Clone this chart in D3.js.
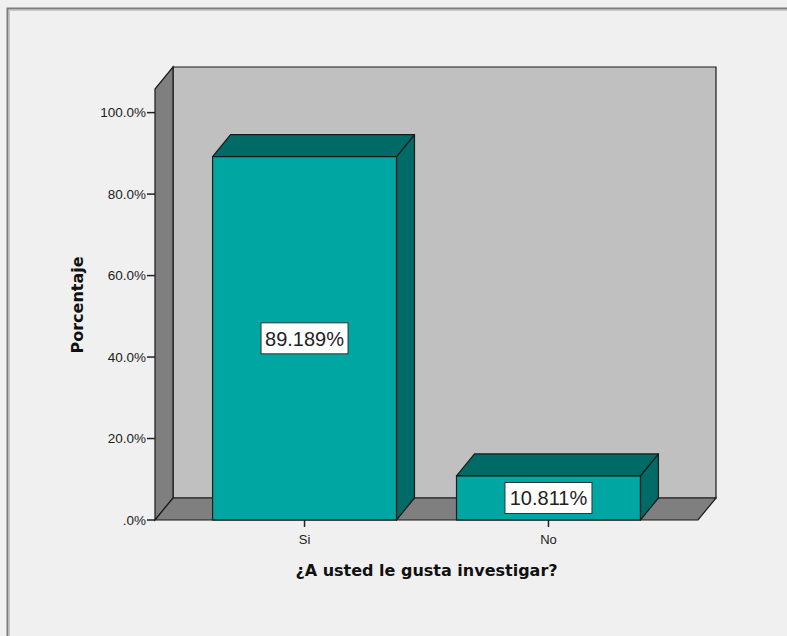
<!DOCTYPE html>
<html><head><meta charset="utf-8">
<script src="https://cdn.jsdelivr.net/npm/d3@7"></script>
<style>body{margin:0;background:#f0f0f0;} svg{display:block;}</style>
</head><body>
<svg id="c" width="787" height="636"></svg>
<script>
const categories = ["Si", "No"];
const values = [89.189, 10.811];
const valueLabels = ["89.189%", "10.811%"];
const yTicks = [0, 20, 40, 60, 80, 100];
const yTickLabels = [".0%", "20.0%", "40.0%", "60.0%", "80.0%", "100.0%"];
const xTitle = "¿A usted le gusta investigar?";
const yTitle = "Porcentaje";

const svg = d3.select("#c");
const W = 787, H = 636;
svg.append("rect").attr("width", W).attr("height", H).attr("fill", "#f0f0f0");
// outer frame
svg.append("path").attr("d", `M7.5,${H}V8.5H${W}`).attr("fill", "none").attr("stroke", "#7d7d7d").attr("stroke-width", 2);
svg.append("path").attr("d", `M9.5,${H}V10.5H${W}`).attr("fill", "none").attr("stroke", "#c8c8c8").attr("stroke-width", 1);

const x0 = 155, x1 = 698, yBase = 520;
const dx = 18, dy = -22;
const y = d3.scaleLinear().domain([0, 105.8]).range([yBase, 89]);
const x = d3.scaleBand().domain(categories).range([x0, x1]).paddingInner(0.246).paddingOuter(0.236);

const edge = "#1a1a1a";
const yTop = y(105.8);
// back wall
svg.append("path").attr("d", `M${x0+dx},${yBase+dy}V${yTop+dy}H${x1+dx}V${yBase+dy}Z`)
  .attr("fill", "#c0c0c0").attr("stroke", edge).attr("stroke-width", 1.2);
// left wall
svg.append("path").attr("d", `M${x0},${yBase}V${yTop}L${x0+dx},${yTop+dy}V${yBase+dy}Z`)
  .attr("fill", "#7f7f7f").attr("stroke", edge).attr("stroke-width", 1.2);
// floor
svg.append("path").attr("d", `M${x0},${yBase}H${x1}L${x1+dx},${yBase+dy}H${x0+dx}Z`)
  .attr("fill", "#7f7f7f").attr("stroke", edge).attr("stroke-width", 1.2);

// bars
const g = svg.append("g");
categories.forEach((c, i) => {
  const bx = x(c), bw = x.bandwidth(), by = y(values[i]);
  g.append("path").attr("d", `M${bx+bw},${yBase}V${by}L${bx+bw+dx},${by+dy}V${yBase+dy}Z`)
    .attr("fill", "#006a66").attr("stroke", edge).attr("stroke-width", 1.2).attr("stroke-linejoin", "round");
  g.append("path").attr("d", `M${bx},${by}H${bx+bw}L${bx+bw+dx},${by+dy}H${bx+dx}Z`)
    .attr("fill", "#006a66").attr("stroke", edge).attr("stroke-width", 1.2).attr("stroke-linejoin", "round");
  g.append("rect").attr("x", bx).attr("y", by).attr("width", bw).attr("height", yBase - by)
    .attr("fill", "#00a6a1").attr("stroke", edge).attr("stroke-width", 1.2);
});

// y axis ticks
const ya = svg.append("g");
yTicks.forEach((t, i) => {
  ya.append("line").attr("x1", x0 - 8).attr("x2", x0).attr("y1", y(t)).attr("y2", y(t))
    .attr("stroke", "#222").attr("stroke-width", 1.5);
  ya.append("text").attr("x", x0 - 9).attr("y", y(t)).attr("dy", "0.36em").attr("text-anchor", "end")
    .attr("font-family", "'Liberation Sans', Arial, sans-serif").attr("font-size", 13.5).attr("fill", "#222")
    .text(yTickLabels[i]);
});
// x axis ticks
categories.forEach((c) => {
  const cx = x(c) + x.bandwidth() / 2;
  svg.append("line").attr("x1", cx).attr("x2", cx).attr("y1", yBase).attr("y2", yBase + 7)
    .attr("stroke", "#222").attr("stroke-width", 1.5);
  svg.append("text").attr("x", cx).attr("y", yBase + 24).attr("text-anchor", "middle")
    .attr("font-family", "'Liberation Sans', Arial, sans-serif").attr("font-size", 13).attr("fill", "#222").text(c);
});

// value labels
categories.forEach((c, i) => {
  const cx = x(c) + x.bandwidth() / 2;
  const cy = (y(values[i]) + yBase) / 2;
  const t = svg.append("text").attr("x", cx).attr("y", cy).attr("dy", "0.36em").attr("text-anchor", "middle")
    .attr("font-family", "'Liberation Sans', Arial, sans-serif").attr("font-size", 20).attr("fill", "#222")
    .text(valueLabels[i]);
  svg.insert("rect", () => t.node()).attr("x", cx - 43.5).attr("y", cy - 15.5).attr("width", 87).attr("height", 31)
    .attr("fill", "#ffffff").attr("stroke", "#333").attr("stroke-width", 1);
});

// titles
svg.append("text").attr("x", (x0 + x1) / 2).attr("y", 576).attr("text-anchor", "middle")
  .attr("font-family", "'DejaVu Sans', sans-serif").attr("font-weight", "bold").attr("font-size", 16).attr("fill", "#111")
  .text(xTitle);
svg.append("text").attr("transform", `translate(83,305) rotate(-90)`).attr("text-anchor", "middle")
  .attr("font-family", "'DejaVu Sans', sans-serif").attr("font-weight", "bold").attr("font-size", 16).attr("fill", "#111")
  .text(yTitle);
</script>
</body></html>
